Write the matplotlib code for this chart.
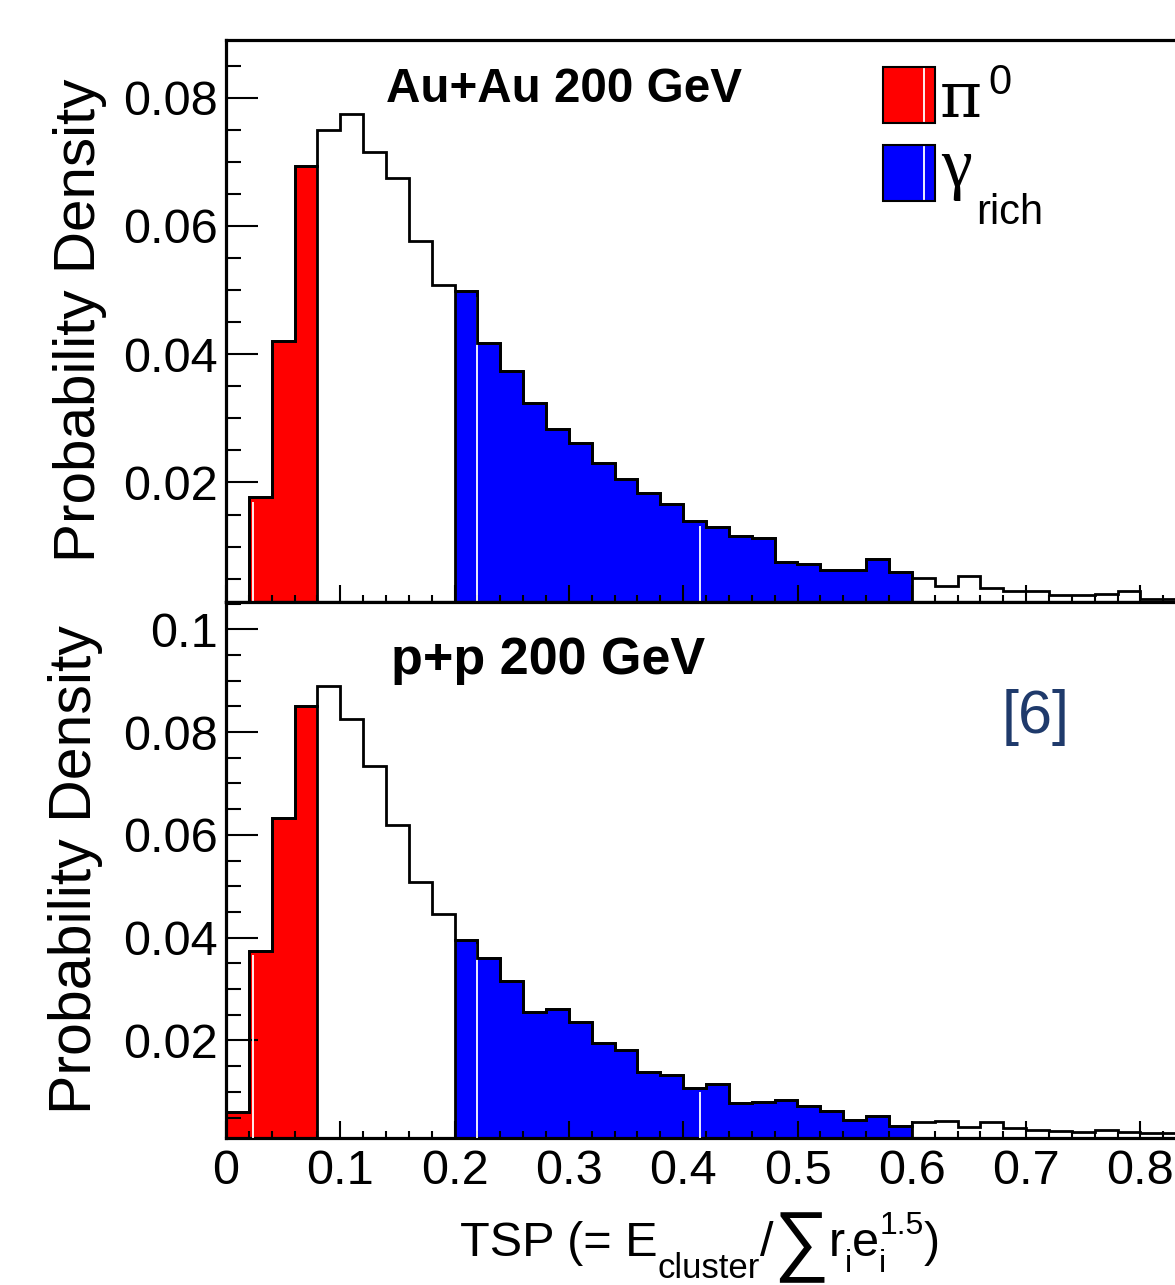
import numpy as np
import matplotlib
matplotlib.use('Agg')
import matplotlib.pyplot as plt
from matplotlib.patches import Rectangle
from matplotlib.lines import Line2D
from matplotlib.ticker import MultipleLocator, FuncFormatter

plt.rcParams['font.family'] = ['Liberation Sans', 'DejaVu Sans']

# Bin edges of TSP (width 0.02)
bin_width = 0.02
n_bins = 42
edges = np.round(np.arange(n_bins + 1) * bin_width, 4)

# Probability density per bin
auau_density = [0.0, 0.0177, 0.0421, 0.0693, 0.0750, 0.0774, 0.0716, 0.0675, 0.0576, 0.0508,
                0.0498, 0.0417, 0.0374, 0.0324, 0.0283, 0.0262, 0.0231, 0.0205, 0.0183, 0.0166,
                0.0140, 0.0130, 0.0117, 0.0113, 0.0076, 0.0073, 0.0064, 0.0064, 0.0080, 0.0061,
                0.0051, 0.0039, 0.0054, 0.0036, 0.0031, 0.0031, 0.0025, 0.0025, 0.0026, 0.0031,
                0.0019, 0.0019]
pp_density = [0.0060, 0.0375, 0.0633, 0.0850, 0.0889, 0.0825, 0.0734, 0.0620, 0.0508, 0.0447,
              0.0396, 0.0360, 0.0316, 0.0255, 0.0261, 0.0235, 0.0196, 0.0182, 0.0139, 0.0132,
              0.0108, 0.0116, 0.0078, 0.0080, 0.0084, 0.0073, 0.0062, 0.0046, 0.0053, 0.0034,
              0.0041, 0.0044, 0.0031, 0.0041, 0.0030, 0.0026, 0.0024, 0.0022, 0.0026, 0.0022,
              0.0020, 0.0020]

# Selection windows (bin index ranges)
pi0_bins = (0, 4)      # TSP 0 - 0.08
gamma_bins = (10, 30)  # TSP 0.2 - 0.6

# thin white seams seen inside the filled areas
seam_x = [0.0235, 0.2195, 0.4147]

panels = [
    ('Au+Au 200 GeV', auau_density, (0.00136, 0.0890), [0.02, 0.04, 0.06, 0.08]),
    ('p+p 200 GeV', pp_density, (0.00103, 0.1053), [0.02, 0.04, 0.06, 0.08, 0.1]),
]

fig = plt.figure(figsize=(11.75, 12.85), dpi=100)
W, H = 1175.0, 1285.0
ax_top = fig.add_axes([226 / W, 1 - 602 / H, 0.84 * 1143 / W, 562 / H])
ax_bot = fig.add_axes([226 / W, 1 - 1138 / H, 0.84 * 1143 / W, 536 / H])

fmt = FuncFormatter(lambda v, pos: f'{v:g}')

for ax, (name, dens, ylim, yticks) in zip([ax_top, ax_bot], panels):
    dens = np.array(dens)
    # filled pi0-rich and gamma-rich regions
    for (lo, hi), col in [(pi0_bins, '#ff0000'), (gamma_bins, '#0000ff')]:
        ax.stairs(dens[lo:hi], edges[lo:hi + 1], fill=True, facecolor=col,
                  edgecolor='black', linewidth=2, baseline=0)
    # white seams
    for sx in seam_x:
        idx = int(sx // bin_width)
        ax.vlines(sx, 0, dens[idx] - 0.0008, color='white', linewidth=1.3, zorder=3)
    # full histogram outline
    ax.stairs(dens, edges, color='black', linewidth=2, baseline=None, zorder=4)

    ax.set_xlim(0, 0.84)
    ax.set_ylim(*ylim)
    ax.set_yticks(yticks)
    ax.yaxis.set_minor_locator(MultipleLocator(0.005))
    ax.xaxis.set_major_locator(MultipleLocator(0.1))
    ax.xaxis.set_minor_locator(MultipleLocator(0.02))
    ax.yaxis.set_major_formatter(fmt)
    ax.xaxis.set_major_formatter(fmt)
    ax.tick_params(axis='y', which='major', direction='in', length=23, width=1.5,
                   labelsize=35, pad=6, right=False)
    ax.tick_params(axis='y', which='minor', direction='in', length=11, width=1.5, right=False)
    ax.tick_params(axis='x', which='major', direction='in', length=12, width=1.5,
                   labelsize=35, pad=8, top=False)
    ax.tick_params(axis='x', which='minor', direction='in', length=5, width=1.5, top=False)
    for sp in ax.spines.values():
        sp.set_linewidth(2.3)

ax_top.tick_params(axis='x', labelbottom=False)

# panel titles
fig.text(564 / W, 1 - 102 / H, 'Au+Au 200 GeV', fontsize=34.3, fontweight='bold',
         ha='center', va='baseline')
fig.text(548 / W, 1 - 674 / H, 'p+p 200 GeV', fontsize=37.5, fontweight='bold',
         ha='center', va='baseline')

# axis titles
fig.text(80 / W, 1 - 320 / H, 'Probability Density', fontsize=42, rotation=90,
         ha='center', va='center')
fig.text(76 / W, 1 - 870 / H, 'Probability Density', fontsize=42.5, rotation=90,
         ha='center', va='center')

# x title built from pieces: (text, size, baseline shift px, advance cursor)
renderer = fig.canvas.get_renderer()
x_pieces = [
    ('TSP (= E', 35, 0, True),
    ('cluster', 25, -22, True),
    ('/', 35, 0, True),
    ('\u2211', 56, -10, True),
    ('r', 35, 0, True),
    ('i', 23, -16, True),
    ('e', 35, 0, True),
    ('i', 23, -16, False),
    ('1.5', 23, 22, True),
    (')', 35, 0, True),
]
x_cursor = 460.0
base_y = 1256.0
for txt, size, dy, adv in x_pieces:
    t = fig.text(x_cursor / W, 1 - (base_y - dy) / H, txt, fontsize=size,
                 ha='left', va='baseline')
    if adv:
        bb = t.get_window_extent(renderer)
        x_cursor += bb.width

# legend boxes
for y0, col in [(67, '#ff0000'), (145, '#0000ff')]:
    fig.add_artist(Rectangle((883 / W, 1 - (y0 + 56) / H), 52 / W, 56 / H,
                             transform=fig.transFigure, facecolor=col,
                             edgecolor='black', linewidth=1.5))
    fig.add_artist(Line2D([924 / W, 924 / W], [1 - (y0 + 54) / H, 1 - (y0 + 2) / H],
                          transform=fig.transFigure, color='white', linewidth=1.3))
# legend labels
fig.text(940 / W, 1 - 117 / H, '\u03c0', fontsize=46, family='DejaVu Serif',
         ha='left', va='baseline')
fig.text(988 / W, 1 - 94 / H, '0', fontsize=30, ha='left', va='baseline')
fig.text(941 / W, 1 - 186 / H, '\u03b3', fontsize=50, family='Liberation Serif',
         ha='left', va='baseline')
fig.text(976 / W, 1 - 224 / H, 'rich', fontsize=30, ha='left', va='baseline')

# reference tag
fig.text(1036 / W, 1 - 718 / H, '[6]', fontsize=44, color='#1f3a6b',
         ha='center', va='center')

plt.savefig('out.png', dpi=100)
